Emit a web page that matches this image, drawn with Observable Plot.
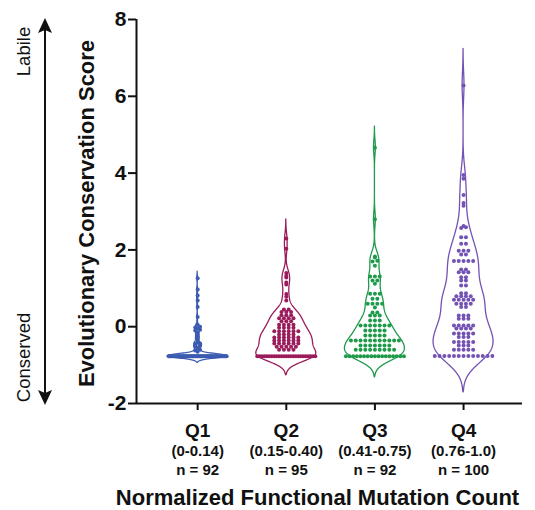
<!DOCTYPE html>
<html><head><meta charset="utf-8">
<script src="https://cdn.jsdelivr.net/npm/d3@7"></script>
<script src="https://cdn.jsdelivr.net/npm/@observablehq/plot@0.6"></script>
<style>html,body{margin:0;padding:0;background:#fff}</style>
</head><body><div id="chart"></div>
<script>
// ---- data ----
const groups = ["Q1", "Q2", "Q3", "Q4"];
const ranges = ["(0-0.14)", "(0.15-0.40)", "(0.41-0.75)", "(0.76-1.0)"];
const counts = ["n = 92", "n = 95", "n = 92", "n = 100"];
const colors = ["#3c5cb1", "#9a1c5b", "#1f9a4b", "#7352b4"];
const yTicks = [-2, 0, 2, 4, 6, 8];
const yTitle = "Evolutionary Conservation Score";
const xTitle = "Normalized Functional Mutation Count";
const upLabel = "Labile";
const downLabel = "Conserved";

const q1 = [1.26, 0.97, 0.81, 0.68, 0.51, 0.25, 0.05, 0.0, -0.02, -0.05, -0.08, -0.1, -0.15, -0.2, -0.25,
  -0.28, -0.32, -0.38, -0.42, -0.44, -0.45, -0.46, -0.48, -0.5, -0.52, -0.55, -0.58, -0.6, -0.62, -0.65,
  -0.77, -0.77, -0.77, -0.77, -0.77, -0.77, -0.77, -0.77, -0.77, -0.77, -0.77, -0.77, -0.77, -0.77, -0.77, -0.77,
  -0.77, -0.77, -0.77, -0.77, -0.77, -0.77, -0.77, -0.77, -0.77, -0.77, -0.77, -0.77, -0.77, -0.77, -0.77, -0.77,
  -0.77, -0.77, -0.77, -0.77, -0.77, -0.77, -0.77, -0.77, -0.77, -0.77, -0.77, -0.77, -0.77, -0.77, -0.77, -0.77,
  -0.77, -0.77, -0.77, -0.77, -0.77, -0.77, -0.77, -0.77, -0.77, -0.77, -0.77, -0.77, -0.77, -0.77];

const q2 = [2.30, 2.03, 1.40, 1.33, 1.28, 1.15, 1.10, 0.85, 0.78, 0.68,
  0.45, 0.45, 0.38, 0.38, 0.38, 0.30, 0.30, 0.30, 0.22, 0.22, 0.22, 0.22, 0.14, 0.14, 0.14,
  0.05, 0.05, 0.05, 0.05, -0.03, -0.03, -0.03, -0.03, -0.12, -0.12, -0.12, -0.12, -0.12, -0.12,
  -0.20, -0.20, -0.20, -0.20, -0.28, -0.28, -0.28, -0.28, -0.28, -0.28, -0.36, -0.36, -0.36, -0.36, -0.36, -0.36,
  -0.44, -0.44, -0.44, -0.44, -0.44, -0.44, -0.52, -0.52, -0.52, -0.52, -0.52, -0.60, -0.60, -0.60, -0.60,
  -0.77, -0.77, -0.77, -0.77, -0.77, -0.77, -0.77, -0.77, -0.77, -0.77, -0.77, -0.77, -0.77, -0.77, -0.77, -0.77,
  -0.77, -0.77, -0.77, -0.77, -0.77, -0.77, -0.77, -0.77, -0.77];

const q3 = [4.66, 2.80, 1.83, 1.80, 1.72, 1.70, 1.59, 1.31, 1.31, 1.31, 1.20, 1.20, 1.12,
  0.86, 0.86, 0.86, 0.73, 0.73, 0.60, 0.60, 0.60, 0.60, 0.50, 0.37, 0.37, 0.29, 0.29, 0.29,
  0.16, 0.16, 0.16, 0.03, 0.03, 0.03, 0.03, 0.03, 0.03, 0.03, -0.10, -0.10, -0.10, -0.10, -0.10,
  -0.23, -0.23, -0.23, -0.23, -0.23, -0.36, -0.36, -0.36, -0.36, -0.36, -0.36, -0.36, -0.36, -0.36, -0.36, -0.36,
  -0.49, -0.49, -0.49, -0.49, -0.49, -0.49, -0.49, -0.60, -0.60, -0.60, -0.60, -0.60, -0.60, -0.60, -0.60, -0.60,
  -0.77, -0.77, -0.77, -0.77, -0.77, -0.77, -0.77, -0.77, -0.77, -0.77, -0.77, -0.77, -0.77, -0.77, -0.77, -0.77, -0.77];

const q4 = [6.28, 3.95, 3.85, 3.43, 3.22, 3.15, 2.62, 2.59, 2.57,
  2.33, 2.33, 2.16, 2.16, 1.98, 1.98, 1.98, 1.88, 1.88, 1.71, 1.71, 1.71, 1.71, 1.71,
  1.49, 1.49, 1.42, 1.42, 1.42, 1.29, 1.29, 1.20, 1.20, 1.07, 1.07, 0.87, 0.87,
  0.79, 0.79, 0.79, 0.79, 0.70, 0.70, 0.70, 0.70, 0.70, 0.60, 0.60, 0.60, 0.60, 0.51, 0.51,
  0.29, 0.29, 0.29, 0.21, 0.21, 0.21, 0.03, 0.03, 0.03, 0.03, 0.03, -0.05, -0.05, -0.05, -0.05,
  -0.18, -0.18, -0.18, -0.18, -0.18, -0.27, -0.27, -0.27, -0.40, -0.40, -0.40, -0.40, -0.40,
  -0.49, -0.49, -0.49, -0.60, -0.60, -0.60, -0.60, -0.60,
  -0.76, -0.76, -0.76, -0.76, -0.76, -0.76, -0.76, -0.76, -0.76, -0.76, -0.76, -0.76, -0.76];

const series = [q1, q2, q3, q4];

// ---- layout / style ----
const W = 535, H = 510, mL = 136, mR = 13, mT = 19, mB = 107;
const xDomain = [-0.69, 3.665];
const bandwidths = [0.057, 0.17, 0.19, 0.34];
const tailFactor = [3, 2.9, 2.9, 2.8];
const violinHalfPx = 30, dotGapPx = 4.8, rowHalfPx = 29, dotR = 2;
const font = "'Liberation Sans', Arial, Helvetica, sans-serif";
const pxPerX = (W - mL - mR) / (xDomain[1] - xDomain[0]);

// kernel density for violins
function violin(values, h, t, gi) {
  const lo = d3.min(values) - t * h, hi = d3.max(values) + t * h;
  const n = 400, ys = d3.range(n + 1).map(k => lo + (hi - lo) * k / n);
  const dens = ys.map(y => d3.sum(values, v => Math.exp(-0.5 * ((y - v) / h) ** 2)));
  const m = d3.max(dens);
  dens[0] = 0; dens[n] = 0;
  return ys.map((y, k) => ({g: gi, y, w: dens[k] / m * violinHalfPx / pxPerX}));
}

// Prism-like scatter: tied values spread into centred rows
function scatter(values, gi) {
  const sorted = values.slice().sort((a, b) => a - b);
  const rows = [];
  for (const v of sorted) {
    const last = rows[rows.length - 1];
    if (last && v - last[0] <= 0.025) last.push(v); else rows.push([v]);
  }
  const out = [];
  for (const row of rows) {
    const k = row.length;
    const s = k > 1 ? Math.min(dotGapPx, 2 * rowHalfPx / (k - 1)) : 0;
    row.forEach((v, j) => out.push({g: gi, v, x: gi + (j - (k - 1) / 2) * s / pxPerX}));
  }
  return out;
}

const marks = [];
series.forEach((vals, i) => {
  marks.push(Plot.areaX(violin(vals, bandwidths[i], tailFactor[i], i), {
    y: "y", x1: d => d.g - d.w, x2: d => d.g + d.w,
    fill: "white", stroke: colors[i], strokeWidth: 1.3, curve: "linear"
  }));
});
series.forEach((vals, i) => {
  marks.push(Plot.dot(scatter(vals, i), {x: "x", y: "v", r: dotR, fill: colors[i], stroke: "none"}));
});

marks.push(
  Plot.ruleX([xDomain[0]], {stroke: "#111", strokeWidth: 2}),
  Plot.ruleY([yTicks[0]], {stroke: "#111", strokeWidth: 2}),
  Plot.axisY({ticks: yTicks, tickFormat: d => String(d), tickSize: 8, tickPadding: 2,
    fontSize: 21, fontWeight: "bold", strokeWidth: 2, stroke: "#111", fill: "#111", label: null}),
  Plot.axisX({ticks: groups.map((g, i) => i), tickFormat: () => "", tickSize: 7,
    strokeWidth: 2, stroke: "#111", label: null}),
  Plot.text(groups, {x: (d, i) => i, text: d => d, frameAnchor: "bottom", lineAnchor: "bottom",
    dy: 33, fontSize: 19, fontWeight: "bold", fill: "#111"}),
  Plot.text(ranges, {x: (d, i) => i, text: d => d, frameAnchor: "bottom", lineAnchor: "bottom",
    dy: 52, fontSize: 15, fontWeight: "bold", fill: "#111"}),
  Plot.text(counts, {x: (d, i) => i, text: d => d, frameAnchor: "bottom", lineAnchor: "bottom",
    dy: 71, fontSize: 15, fontWeight: "bold", fill: "#111"}),
  Plot.text([xTitle], {frameAnchor: "bottom", lineAnchor: "bottom", dx: -12, dy: 101,
    fontSize: 22, fontWeight: "bold", fill: "#111"}),
  Plot.text([yTitle], {frameAnchor: "left", rotate: -90, textAnchor: "middle", lineAnchor: "bottom",
    dx: -43, dy: 2, fontSize: 22, fontWeight: "bold", fill: "#111"}),
  Plot.text([upLabel], {frameAnchor: "top-left", rotate: -90, textAnchor: "middle", lineAnchor: "bottom",
    dx: -107, dy: 32, fontSize: 18.5, fontWeight: "normal", fill: "#111"}),
  Plot.text([downLabel], {frameAnchor: "bottom-left", rotate: -90, textAnchor: "middle", lineAnchor: "bottom",
    dx: -107, dy: -46, fontSize: 18.5, fontWeight: "normal", fill: "#111"})
);

const plot = Plot.plot({
  width: W, height: H,
  marginLeft: mL, marginRight: mR, marginTop: mT, marginBottom: mB,
  style: {fontFamily: font, background: "white", overflow: "visible"},
  x: {domain: xDomain, axis: null},
  y: {domain: [yTicks[0], yTicks[yTicks.length - 1]], axis: null},
  marks
});
document.getElementById("chart").appendChild(plot);

// double-headed arrow at the far left (decoration)
const ys = plot.scale("y");
const yt = ys.apply(yTicks[yTicks.length - 1]) - 1, yb = ys.apply(yTicks[0]) + 2;
const ax = 45;
const g = d3.select(plot).append("g").attr("fill", "#111").attr("stroke", "none");
g.append("line").attr("x1", ax).attr("x2", ax).attr("y1", yt + 10).attr("y2", yb - 10)
  .attr("stroke", "#111").attr("stroke-width", 2);
g.append("path").attr("d", `M${ax},${yt} L${ax - 7},${yt + 15} L${ax},${yt + 12} L${ax + 7},${yt + 15} Z`);
g.append("path").attr("d", `M${ax},${yb} L${ax - 7},${yb - 15} L${ax},${yb - 12} L${ax + 7},${yb - 15} Z`);
</script>
</body></html>
